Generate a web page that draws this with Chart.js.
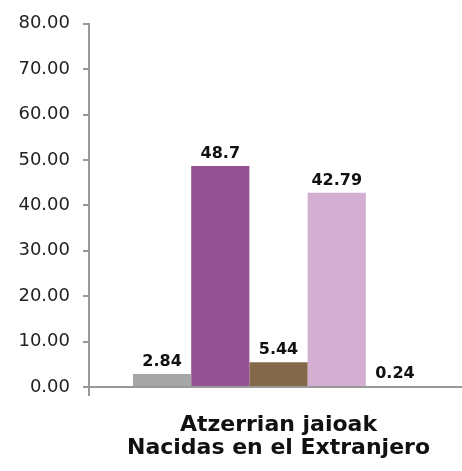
<!DOCTYPE html>
<html>
<head>
<meta charset="utf-8">
<script src="https://cdn.jsdelivr.net/npm/chart.js@4/dist/chart.umd.min.js"></script>
<style>
  html, body { margin: 0; padding: 0; background: #fff; overflow: hidden; }
  #wrap { width: 462px; height: 471px; overflow: hidden; }
</style>
</head>
<body>
<div id="wrap"><canvas id="chart" width="468" height="471"></canvas></div>
<script>
/* ================= DATA ================= */

const categories = [["Atzerrian jaioak", "Nacidas en el Extranjero"]];
const seriesNames = ["Serie 1", "Serie 2", "Serie 3", "Serie 4", "Serie 5"];
const seriesValues = [2.84, 48.7, 5.44, 42.79, 0.24];
const seriesColors = ["#a6a6a6", "#965394", "#83694a", "#d4afd2", "#e6c38c"];
const yTicks = [0, 10, 20, 30, 40, 50, 60, 70, 80];

/* ================= VALUE LABELS ================= */

const valueLabels = {
  id: "valueLabels",
  afterDatasetsDraw(chart) {
    const ctx = chart.ctx;
    ctx.save();
    ctx.font = "bold 16px 'DejaVu Sans'";
    ctx.fillStyle = "#111";
    ctx.textAlign = "center";
    ctx.textBaseline = "alphabetic";
    chart.data.datasets.forEach((ds, i) => {
      const bar = chart.getDatasetMeta(i).data[0];
      ctx.fillText(String(ds.data[0]), bar.x, bar.y - 8);
    });
    ctx.restore();
  }
};

/* ================= CHART ================= */

new Chart(document.getElementById("chart").getContext("2d"), {
  type: "bar",
  data: {
    labels: categories,
    datasets: seriesValues.map((v, i) => ({
      label: seriesNames[i],
      data: [v],
      backgroundColor: seriesColors[i],
      categoryPercentage: 0.768,
      barPercentage: 1
    }))
  },
  options: {
    responsive: false,
    animation: false,
    layout: { padding: { top: 22, right: 0, left: 0, bottom: 0 } },
    plugins: {
      legend: { display: false },
      tooltip: { enabled: false }
    },
    scales: {
      x: {
        afterFit(scale) { scale.height = 84; },
        border: { color: "#999", width: 2 },
        grid: { display: true, drawOnChartArea: false, drawTicks: true, tickLength: 9, color: "#999", lineWidth: 2 },
        ticks: {
          color: "#111",
          padding: 18,
          font: { family: "'DejaVu Sans'", size: 22, weight: "bold", lineHeight: 1.05 }
        }
      },
      y: {
        min: 0,
        max: 80,
        afterFit(scale) { scale.width = 89; },
        afterBuildTicks(scale) { scale.ticks = yTicks.map(v => ({ value: v })); },
        border: { color: "#999", width: 2 },
        grid: { display: true, drawOnChartArea: false, drawTicks: true, tickLength: 6, color: "#999", lineWidth: 2 },
        ticks: {
          color: "#222",
          padding: 13,
          font: { family: "'DejaVu Sans'", size: 18 },
          callback: v => v.toFixed(2)
        }
      }
    }
  },
  plugins: [valueLabels]
});
</script>
</body>
</html>
